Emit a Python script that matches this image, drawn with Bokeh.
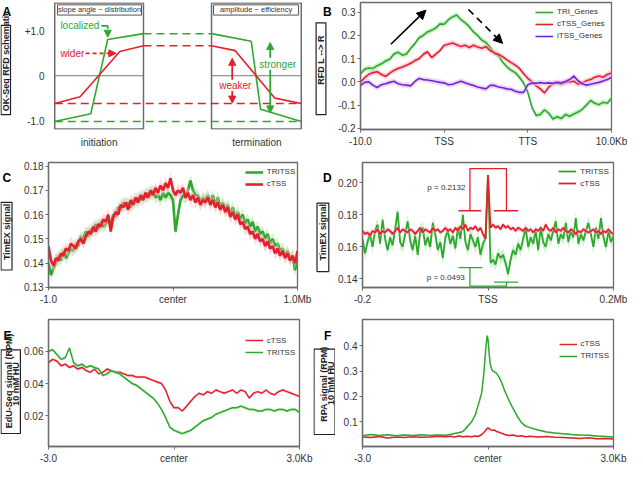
import numpy as np
from math import pi
from bokeh.plotting import figure
from bokeh.layouts import row, column
from bokeh.models import (Range1d, FixedTicker, NumeralTickFormatter, Label,
                          Arrow, NormalHead, Legend, LegendItem)
from bokeh.embed import file_html
from bokeh.resources import INLINE

FONT = "Liberation Sans"
GREEN = "#2ea82e"
RED = "#e6202b"
PURPLE = "#7424d6"
GREEN_BAND = "#a6e8a0"
RED_BAND = "#f7b3c6"
PURPLE_BAND = "#dcbcf5"
FRAME = "#6b6b6b"
TXT = "#222222"

# ---------------- Panel A (schematic) ----------------
A_init_green_x = [0.0, 14.6, 21.5, 36.0]
A_init_green_y = [-1.02, -0.85, 0.81, 0.94]
A_init_red_x = [0.0, 10.3, 26.4, 36.0]
A_init_red_y = [-0.62, -0.47, 0.54, 0.67]
A_term_green_x = [63.6, 79.7, 83.5, 100.0]
A_term_green_y = [0.94, 0.77, -0.75, -1.02]
A_term_red_x = [63.6, 73.2, 89.3, 100.0]
A_term_red_y = [0.67, 0.56, -0.50, -0.62]
A_box_left = [0.0, 63.6]
A_box_right = [36.0, 100.0]
A_titles = ["slope angle ~ distribution", "amplitude ~ efficiency"]
A_title_left = [1.1, 64.4]
A_title_right = [35.2, 98.9]
A_phase_ticks = [18, 82]
A_phase_labels = ["initiation", "termination"]

# ---------------- Panel B (RFD metagene) ----------------
B_ticks = [0, 1, 2, 3]
B_tick_labels = ["-10.0", "TSS", "TTS", "10.0Kb"]
B_x = np.round(np.arange(61) * 0.05, 2)
B_tri = [0.035, 0.055, 0.060, 0.058, 0.070, 0.078, 0.090, 0.098, 0.120, 0.128,
         0.115, 0.120, 0.145, 0.165, 0.190, 0.200, 0.215, 0.222, 0.232, 0.250,
         0.248, 0.268, 0.280, 0.288, 0.268, 0.255, 0.238, 0.215, 0.200, 0.180,
         0.170, 0.148, 0.125, 0.112, 0.085, 0.065, 0.050, 0.040, 0.020, -0.005,
         -0.045, -0.110, -0.145, -0.140, -0.120, -0.135, -0.160, -0.150, -0.158, -0.140,
         -0.148, -0.138, -0.130, -0.118, -0.100, -0.080, -0.092, -0.098, -0.088, -0.092,
         -0.070]
B_ctss = [0.000, 0.018, 0.033, 0.040, 0.044, 0.032, 0.024, 0.038, 0.050, 0.058,
          0.064, 0.072, 0.080, 0.092, 0.100, 0.118, 0.130, 0.105, 0.120, 0.135,
          0.158, 0.162, 0.168, 0.160, 0.152, 0.158, 0.148, 0.158, 0.150, 0.145,
          0.152, 0.135, 0.125, 0.118, 0.108, 0.095, 0.083, 0.072, 0.058, 0.035,
          0.015, 0.000, -0.017, -0.030, -0.048, -0.022, -0.008, -0.004, -0.010, -0.002,
          0.000, 0.003, -0.010, -0.005, 0.005, 0.010, 0.020, 0.025, 0.020, 0.032,
          0.038]
B_itss = [-0.015, -0.002, 0.000, -0.015, -0.024, -0.012, -0.008, -0.002, 0.003, -0.008,
          -0.012, -0.014, -0.017, 0.002, 0.015, 0.010, 0.008, 0.005, 0.002, -0.002,
          -0.004, -0.012, -0.010, -0.004, 0.003, -0.004, -0.010, -0.015, -0.022, -0.026,
          -0.030, -0.015, -0.015, -0.022, -0.025, -0.030, -0.032, -0.040, -0.045, -0.045,
          -0.012, -0.005, -0.006, -0.003, -0.006, -0.004, -0.006, -0.002, -0.004, 0.002,
          0.010, 0.025, 0.005, -0.008, -0.014, -0.010, -0.006, -0.002, 0.004, 0.010,
          0.020]
B_sem = 0.012
B_arrow_solid = (0.363, 0.162, 0.782, 0.309)
B_arrow_dashed = (1.29, 0.312, 1.698, 0.166)

# ---------------- Panel C (TimEX, +-1 Mb) ----------------
C_x = np.round(np.arange(101) * 0.02 - 1.0, 2)
C_tritss = [0.140, 0.135, 0.138, 0.140, 0.143, 0.141, 0.145, 0.142, 0.144, 0.146,
            0.145, 0.148, 0.147, 0.151, 0.150, 0.153, 0.151, 0.154, 0.153, 0.156,
            0.154, 0.157, 0.155, 0.156, 0.158, 0.156, 0.160, 0.159, 0.163, 0.162,
            0.165, 0.164, 0.165, 0.163, 0.166, 0.165, 0.167, 0.166, 0.168, 0.167,
            0.169, 0.168, 0.170, 0.167, 0.168, 0.166, 0.169, 0.167, 0.169, 0.168,
            0.166, 0.153, 0.160, 0.166, 0.168, 0.167, 0.170, 0.174, 0.170, 0.168,
            0.168, 0.165, 0.167, 0.166, 0.168, 0.165, 0.168, 0.164, 0.167, 0.163,
            0.165, 0.162, 0.164, 0.160, 0.163, 0.159, 0.161, 0.158, 0.160, 0.156,
            0.158, 0.155, 0.157, 0.153, 0.155, 0.152, 0.153, 0.150, 0.152, 0.148,
            0.150, 0.147, 0.148, 0.145, 0.146, 0.143, 0.145, 0.142, 0.143, 0.137,
            0.141]
C_ctss = [0.147, 0.141, 0.139, 0.142, 0.141, 0.144, 0.143, 0.146, 0.145, 0.148,
          0.147, 0.146, 0.149, 0.150, 0.148, 0.151, 0.153, 0.152, 0.155, 0.153,
          0.156, 0.155, 0.158, 0.157, 0.160, 0.153, 0.159, 0.161, 0.160, 0.164,
          0.163, 0.165, 0.162, 0.166, 0.164, 0.167, 0.165, 0.168, 0.166, 0.169,
          0.167, 0.170, 0.168, 0.171, 0.169, 0.172, 0.170, 0.173, 0.171, 0.175,
          0.170, 0.168, 0.170, 0.169, 0.171, 0.167, 0.169, 0.166, 0.168, 0.165,
          0.167, 0.164, 0.166, 0.165, 0.167, 0.164, 0.166, 0.163, 0.165, 0.162,
          0.164, 0.161, 0.163, 0.159, 0.161, 0.158, 0.160, 0.156, 0.157, 0.154,
          0.155, 0.152, 0.153, 0.150, 0.152, 0.149, 0.150, 0.147, 0.149, 0.146,
          0.147, 0.144, 0.146, 0.143, 0.145, 0.142, 0.144, 0.141, 0.143, 0.140,
          0.145]
C_sem = 0.0025

# ---------------- Panel D (TimEX, +-0.2 Mb, kb units) ----------------
D_x = np.arange(101) * 4 - 200
D_tritss = [0.165, 0.156, 0.163, 0.168, 0.160, 0.170, 0.174, 0.162, 0.177, 0.165,
            0.158, 0.166, 0.161, 0.171, 0.182, 0.163, 0.160, 0.168, 0.176, 0.164,
            0.158, 0.167, 0.155, 0.170, 0.172, 0.161, 0.166, 0.160, 0.175, 0.168,
            0.158, 0.163, 0.153, 0.166, 0.170, 0.162, 0.167, 0.159, 0.172, 0.165,
            0.180, 0.163, 0.158, 0.168, 0.164, 0.160, 0.166, 0.155, 0.162, 0.165,
            0.205,
            0.150, 0.152, 0.149, 0.156, 0.153, 0.155, 0.150, 0.143, 0.152, 0.158,
            0.155, 0.162, 0.158, 0.165, 0.172, 0.160, 0.166, 0.162, 0.170, 0.158,
            0.172, 0.163, 0.160, 0.168, 0.164, 0.170, 0.176, 0.162, 0.168, 0.165,
            0.175, 0.163, 0.170, 0.166, 0.178, 0.162, 0.168, 0.164, 0.170, 0.175,
            0.168, 0.160, 0.172, 0.165, 0.178, 0.166, 0.160, 0.170, 0.163, 0.167]
D_ctss = [0.170, 0.168, 0.169, 0.167, 0.170, 0.169, 0.171, 0.168, 0.170, 0.169,
          0.171, 0.170, 0.168, 0.170, 0.172, 0.169, 0.171, 0.170, 0.169, 0.171,
          0.170, 0.168, 0.170, 0.172, 0.169, 0.171, 0.170, 0.169, 0.172, 0.170,
          0.171, 0.169, 0.170, 0.172, 0.170, 0.171, 0.169, 0.172, 0.170, 0.173,
          0.171, 0.174, 0.170, 0.172, 0.171, 0.173, 0.170, 0.172, 0.168, 0.165,
          0.205,
          0.172, 0.174, 0.172, 0.173, 0.171, 0.174, 0.172, 0.173, 0.171, 0.172,
          0.170, 0.172, 0.171, 0.170, 0.172, 0.170, 0.171, 0.169, 0.171, 0.170,
          0.172, 0.170, 0.174, 0.171, 0.170, 0.172, 0.169, 0.171, 0.170, 0.172,
          0.170, 0.169, 0.171, 0.170, 0.168, 0.170, 0.169, 0.171, 0.170, 0.169,
          0.170, 0.171, 0.169, 0.170, 0.168, 0.170, 0.169, 0.171, 0.169, 0.168]
D_sem_tritss = 0.004
D_sem_ctss = 0.0015
# significance brackets (kb, signal)
D_red_bracket_x = [[-47, -11], [-28.8, -28.8, 29.4, 29.4], [9.5, 48]]
D_red_bracket_y = [[0.1826, 0.1826], [0.1826, 0.209, 0.209, 0.1826], [0.1826, 0.1826]]
D_green_bracket_x = [[-47, -9], [-28.8, -28.8, 29.4, 29.4], [9.5, 48]]
D_green_bracket_y = [[0.147, 0.147], [0.147, 0.1354, 0.1354, 0.138], [0.138, 0.138]]
D_pvalues = ["p = 0.2132", "p = 0.0493"]
D_pvalue_pos = [(-36, 0.197), (-37, 0.141)]

# ---------------- Panel E (EdU-Seq) ----------------
E_x = np.round(np.arange(61) * 0.1 - 3.0, 1)
E_ctss = [0.053, 0.055, 0.054, 0.051, 0.052, 0.050, 0.051, 0.049, 0.050, 0.048,
          0.047, 0.049, 0.046, 0.047, 0.049, 0.048, 0.047, 0.047, 0.046, 0.045,
          0.045, 0.044, 0.044, 0.044, 0.043, 0.042, 0.041, 0.040, 0.036, 0.029,
          0.025, 0.025, 0.023, 0.026, 0.029, 0.032, 0.034, 0.033, 0.035, 0.034,
          0.036, 0.035, 0.034, 0.035, 0.036, 0.034, 0.036, 0.035, 0.031, 0.034,
          0.035, 0.034, 0.036, 0.034, 0.033, 0.035, 0.036, 0.035, 0.034, 0.033,
          0.032]
E_tritss = [0.060, 0.061, 0.058, 0.055, 0.056, 0.062, 0.053, 0.051, 0.052, 0.050,
            0.051, 0.050, 0.049, 0.045, 0.046, 0.048, 0.047, 0.046, 0.044, 0.042,
            0.040, 0.039, 0.037, 0.035, 0.033, 0.031, 0.028, 0.024, 0.019, 0.013,
            0.011, 0.010, 0.009, 0.010, 0.011, 0.013, 0.015, 0.017, 0.018, 0.019,
            0.021, 0.022, 0.023, 0.024, 0.025, 0.025, 0.026, 0.025, 0.024, 0.024,
            0.023, 0.023, 0.024, 0.024, 0.023, 0.024, 0.024, 0.023, 0.024, 0.024,
            0.022]
E_sem = 0.0009

# ---------------- Panel F (RPA) ----------------
F_x = [-3.0, -2.8, -2.6, -2.4, -2.2, -2.0, -1.8, -1.6, -1.4, -1.2,
       -1.0, -0.9, -0.8, -0.7, -0.6, -0.5, -0.4, -0.3, -0.25, -0.2,
       -0.15, -0.1, -0.05, -0.02, 0.0, 0.02, 0.05, 0.1, 0.15, 0.2,
       0.25, 0.3, 0.35, 0.4, 0.5, 0.6, 0.7, 0.8, 0.9, 1.0,
       1.2, 1.4, 1.6, 1.8, 2.0, 2.2, 2.4, 2.6, 2.8, 3.0]
F_tritss = [0.045, 0.050, 0.046, 0.049, 0.045, 0.048, 0.046, 0.049, 0.046, 0.048,
            0.047, 0.050, 0.054, 0.057, 0.062, 0.080, 0.098, 0.128, 0.158, 0.185,
            0.215, 0.290, 0.395, 0.440, 0.425, 0.385, 0.330, 0.302, 0.298, 0.292,
            0.280, 0.265, 0.245, 0.222, 0.185, 0.152, 0.122, 0.097, 0.083, 0.077,
            0.068, 0.060, 0.056, 0.053, 0.050, 0.048, 0.047, 0.044, 0.042, 0.040]
F_ctss = [0.040, 0.038, 0.042, 0.036, 0.040, 0.038, 0.041, 0.039, 0.040, 0.043,
          0.041, 0.043, 0.040, 0.044, 0.041, 0.043, 0.041, 0.044, 0.042, 0.045,
          0.050, 0.058, 0.068, 0.074, 0.076, 0.074, 0.070, 0.066, 0.068, 0.062,
          0.060, 0.056, 0.054, 0.050, 0.046, 0.048, 0.043, 0.045, 0.041, 0.043,
          0.040, 0.042, 0.039, 0.038, 0.036, 0.034, 0.037, 0.033, 0.034, 0.032]
F_sem = 0.003


# ---------------- helpers ----------------
def make_fig(w, h, bl, br, bt, bb, xr, yr):
    p = figure(width=w, height=h, x_range=Range1d(*xr), y_range=Range1d(*yr),
               output_backend="svg", toolbar_location=None,
               min_border_left=bl, min_border_right=br,
               min_border_top=bt, min_border_bottom=bb)
    p.xgrid.visible = False
    p.ygrid.visible = False
    p.outline_line_color = FRAME
    p.outline_line_width = 1.3
    p.border_fill_color = "white"
    for ax in (p.xaxis[0], p.yaxis[0]):
        ax.axis_line_color = FRAME
        ax.axis_line_width = 1.3
        ax.major_tick_line_color = FRAME
        ax.minor_tick_line_color = None
        ax.major_tick_out = 3
        ax.major_tick_in = 0
        ax.major_label_text_font = FONT
        ax.major_label_text_font_size = "10px"
        ax.major_label_text_color = "#333333"
    p.xaxis.major_label_standoff = 3
    p.yaxis.major_label_standoff = 2
    return p


def set_ticks(p, xticks, xlabels, yticks, yfmt):
    p.xaxis.ticker = FixedTicker(ticks=xticks, minor_ticks=[])
    p.xaxis.major_label_overrides = dict(zip(xticks, xlabels))
    p.yaxis.ticker = FixedTicker(ticks=yticks, minor_ticks=[])
    p.yaxis.formatter = NumeralTickFormatter(format=yfmt)


def label_fig(w, h, letter, letter_xy, box, texts):
    """Narrow strip holding the panel letter and the boxed y-axis title.
    Positions are measured from the strip's top-left corner; each title is
    written upward starting from the given bottom position."""
    p = figure(width=w, height=h, x_range=Range1d(0, w), y_range=Range1d(0, h),
               output_backend="svg", toolbar_location=None, min_border=0,
               x_axis_type=None, y_axis_type=None)
    p.outline_line_color = None
    p.border_fill_color = "white"
    l, r, t, b = box
    p.quad(left=[l], right=[r], top=[h - t], bottom=[h - b], fill_color=None,
           line_color="#222222", line_width=1.2)
    p.add_layout(Label(x=letter_xy[0], y=h - letter_xy[1], text=letter,
                       text_font=FONT, text_font_style="bold", text_font_size="12px",
                       text_align="left", text_baseline="top", text_color="black"))
    for tx, ty, t_ in texts:
        p.add_layout(Label(x=tx, y=h - ty, text=t_, angle=pi / 2, text_font=FONT,
                           text_font_style="bold", text_font_size="9px",
                           text_align="left", text_baseline="middle", text_color=TXT))
    return p


def line_band(p, x, y, sem, color, band, lw, alpha=0.6):
    y = np.asarray(y, dtype=float)
    p.varea(x=x, y1=y - sem, y2=y + sem, fill_color=band, fill_alpha=alpha)
    return p.line(x, y, line_color=color, line_width=lw)


def add_legend(p, items, loc):
    lg = Legend(items=[LegendItem(label=t, renderers=[r]) for t, r in items],
                location=loc, background_fill_alpha=0, border_line_alpha=0,
                label_text_font=FONT, label_text_font_size="8px",
                label_text_color="#333333", glyph_width=18, glyph_height=12,
                label_height=12, spacing=0, padding=0, margin=0, label_standoff=4)
    p.add_layout(lg)


# ---------------- Panel A ----------------
labA = label_fig(21, 150, "A", (2, 3), (0.5, 10, 27, 132.5),
                 [(5.3, 128.5, "OK-Seq RFD schematic")])
pA = make_fig(292, 150, 25, 11, 2, 18, (-0.5, 100.5), (-1.2, 1.635))
pA.outline_line_color = None
pA.xaxis.axis_line_color = None
pA.xaxis.major_tick_line_color = None
pA.xaxis.major_label_standoff = 4
pA.yaxis.axis_line_color = None
pA.yaxis.major_tick_line_color = None
pA.yaxis.major_label_standoff = 6
pA.xaxis.ticker = FixedTicker(ticks=A_phase_ticks, minor_ticks=[])
pA.xaxis.major_label_overrides = dict(zip(A_phase_ticks, A_phase_labels))
pA.yaxis.ticker = FixedTicker(ticks=[-1, 0, 1], minor_ticks=[])
pA.yaxis.major_label_overrides = {1: "+1.0", 0: "0", -1: "-1.0"}

pA.quad(left=A_box_left, right=A_box_right, bottom=-1.19, top=1.625,
        fill_color=None, line_color=FRAME, line_width=1.5)
for l, r in zip(A_box_left, A_box_right):
    pA.line([l, r], [0, 0], line_color="#777777", line_width=1.2)
pA.quad(left=A_title_left, right=A_title_right, bottom=1.354, top=1.583,
        fill_color="white", line_color="#555555", line_width=1)
for l, r, t in zip(A_title_left, A_title_right, A_titles):
    pA.add_layout(Label(x=(l + r) / 2, y=1.47, text=t, text_font=FONT,
                        text_font_size="7.5px", text_align="center",
                        text_baseline="middle", text_color="#333333"))
pA.line([0, 100], [A_init_green_y[0], A_term_green_y[-1]], line_color=GREEN,
        line_width=1.5, line_dash="8 5")
pA.line([0, 100], [A_init_red_y[0], A_term_red_y[-1]], line_color=RED,
        line_width=1.5, line_dash="8 5")
pA.line([A_init_green_x[-1], A_term_green_x[0]], [A_init_green_y[-1], A_term_green_y[0]],
        line_color=GREEN, line_width=1.5, line_dash="8 5")
pA.line([A_init_red_x[-1], A_term_red_x[0]], [A_init_red_y[-1], A_term_red_y[0]],
        line_color=RED, line_width=1.5, line_dash="8 5")
for xs, ys, c in [(A_init_green_x, A_init_green_y, GREEN), (A_init_red_x, A_init_red_y, RED),
                  (A_term_green_x, A_term_green_y, GREEN), (A_term_red_x, A_term_red_y, RED)]:
    pA.line(xs, ys, line_color=c, line_width=1.6)


def a_text(x, y, t, c):
    pA.add_layout(Label(x=x, y=y, text=t, text_font=FONT, text_font_size="10px",
                        text_align="left", text_baseline="middle", text_color=c))


def a_arrow(x0, y0, x1, y1, c, dash="solid"):
    pA.add_layout(Arrow(end=NormalHead(size=7, fill_color=c, line_color=c),
                        x_start=x0, y_start=y0, x_end=x1, y_end=y1,
                        line_color=c, line_width=1.8, line_dash=dash))


a_text(2.3, 1.125, "localized", GREEN)
pA.line([18.9, 21.5], [1.115, 1.115], line_color=GREEN, line_width=1.8)
a_arrow(21.5, 1.115, 21.5, 0.86, GREEN, "3 2")
a_text(2.3, 0.5, "wider", RED)
a_arrow(12.5, 0.5, 24.8, 0.5, RED, "4 3")
a_text(66.7, -0.21, "weaker", RED)
a_arrow(72.0, -0.09, 72.0, 0.39, RED)
a_arrow(72.0, -0.34, 72.0, -0.61, RED)
a_text(83.0, 0.26, "stronger", GREEN)
a_arrow(87.4, 0.40, 87.4, 0.74, GREEN)
a_arrow(87.4, 0.13, 87.4, -0.83, GREEN)

# ---------------- Panel B ----------------
labB = label_fig(22, 150, "B", (9.4, 3), (2.6, 12.4, 24, 132.5),
                 [(7.5, 97, "RFD L --> R")])
pB = make_fig(292, 150, 25, 16, 2, 18, (0, 3), (-0.205, 0.342))
set_ticks(pB, B_ticks, B_tick_labels, [-0.2, -0.1, 0.0, 0.1, 0.2, 0.3], "0.0")
rB1 = line_band(pB, B_x, B_tri, B_sem, GREEN, GREEN_BAND, 1.6)
rB2 = line_band(pB, B_x, B_ctss, B_sem, RED, RED_BAND, 1.6)
rB3 = line_band(pB, B_x, B_itss, B_sem, PURPLE, PURPLE_BAND, 1.6)
x0, y0, x1, y1 = B_arrow_solid
pB.add_layout(Arrow(end=NormalHead(size=9, fill_color="black", line_color="black"),
                    x_start=x0, y_start=y0, x_end=x1, y_end=y1,
                    line_color="black", line_width=1.6))
x0, y0, x1, y1 = B_arrow_dashed
pB.add_layout(Arrow(end=NormalHead(size=9, fill_color="black", line_color="black"),
                    x_start=x0, y_start=y0, x_end=x1, y_end=y1,
                    line_color="black", line_width=1.6, line_dash="7 5"))
add_legend(pB, [("TRI_Genes", rB1), ("cTSS_Genes", rB2), ("iTSS_Genes", rB3)], (175, 87.5))

# ---------------- Panel C ----------------
labC = label_fig(21, 157, "C", (2, 11), (0.5, 11.5, 50, 135),
                 [(6, 122.5, "TimEX signal")])
pC = make_fig(292, 157, 25, 16, 12, 20, (-1, 1), (0.1299, 0.1815))
set_ticks(pC, [-1, 0, 1], ["-1.0", "center", "1.0Mb"], [0.13, 0.14, 0.15, 0.16, 0.17, 0.18], "0.00")
rC1 = line_band(pC, C_x, C_tritss, C_sem, GREEN, GREEN_BAND, 2.6, 0.5)
rC2 = line_band(pC, C_x, C_ctss, C_sem, RED, RED_BAND, 2.6, 0.5)
add_legend(pC, [("TRITSS", rC1), ("cTSS", rC2)], (196.8, 97.4))

# ---------------- Panel D ----------------
labD = label_fig(22, 157, "D", (9.4, 11), (3.5, 15.3, 51, 137),
                 [(9.4, 123, "TimEX signal")])
pD = make_fig(292, 157, 26, 14, 12, 20, (-200, 200), (0.1346, 0.2128))
set_ticks(pD, [-200, 0, 200], ["-0.2", "TSS", "0.2Mb"], [0.14, 0.16, 0.18, 0.20], "0.00")
rD1 = line_band(pD, D_x, D_tritss, D_sem_tritss, GREEN, GREEN_BAND, 1.8, 0.5)
rD2 = line_band(pD, D_x, D_ctss, D_sem_ctss, RED, RED_BAND, 1.8, 0.6)
for xs, ys in zip(D_red_bracket_x, D_red_bracket_y):
    pD.line(xs, ys, line_color=RED, line_width=1.3)
for xs, ys in zip(D_green_bracket_x, D_green_bracket_y):
    pD.line(xs, ys, line_color=GREEN, line_width=1.3)
for t, (px, py) in zip(D_pvalues, D_pvalue_pos):
    pD.add_layout(Label(x=px, y=py, text=t, text_font=FONT, text_font_size="8px",
                        text_align="right", text_baseline="middle", text_color="#333333"))
add_legend(pD, [("TRITSS", rD1), ("cTSS", rD2)], (196.3, 97.6))

# ---------------- Panel E ----------------
labE = label_fig(21, 159, "E", (3, 12), (0.5, 19.9, 38, 142.7),
                 [(8.3, 136, "EdU-Seq signal (RPM)"), (15.9, 108, "10 mM HU")])
pE = make_fig(292, 159, 25, 14, 12, 17, (-3, 3), (0.001, 0.0797))
set_ticks(pE, [-3, 0, 3], ["-3.0", "center", "3.0Kb"], [0.02, 0.04, 0.06], "0.00")
rE1 = line_band(pE, E_x, E_ctss, E_sem, RED, RED_BAND, 1.5)
rE2 = line_band(pE, E_x, E_tritss, E_sem, GREEN, GREEN_BAND, 1.5)
add_legend(pE, [("cTSS", rE1), ("TRITSS", rE2)], (196.8, 87.7))

# ---------------- Panel F ----------------
labF = label_fig(22, 159, "F", (10.4, 12), (0.5, 21.5, 37, 144),
                 [(10.4, 128, "RPA signal (RPM)"), (17.5, 107, "10 mM HU")])
pF = make_fig(292, 159, 27, 14, 11, 17, (-3, 3), (0.0026, 0.5036))
set_ticks(pF, [-3, 0, 3], ["-3.0", "center", "3.0Kb"], [0.1, 0.2, 0.3, 0.4], "0.0")
rF1 = line_band(pF, F_x, F_ctss, F_sem, RED, RED_BAND, 1.5)
rF2 = line_band(pF, F_x, F_tritss, F_sem, GREEN, GREEN_BAND, 1.5)
add_legend(pF, [("cTSS", rF1), ("TRITSS", rF2)], (196.6, 84.5))

layout = column(row(labA, pA, labB, pB), row(labC, pC, labD, pD), row(labE, pE, labF, pF))
open("out.html", "w").write(file_html(layout, INLINE))
